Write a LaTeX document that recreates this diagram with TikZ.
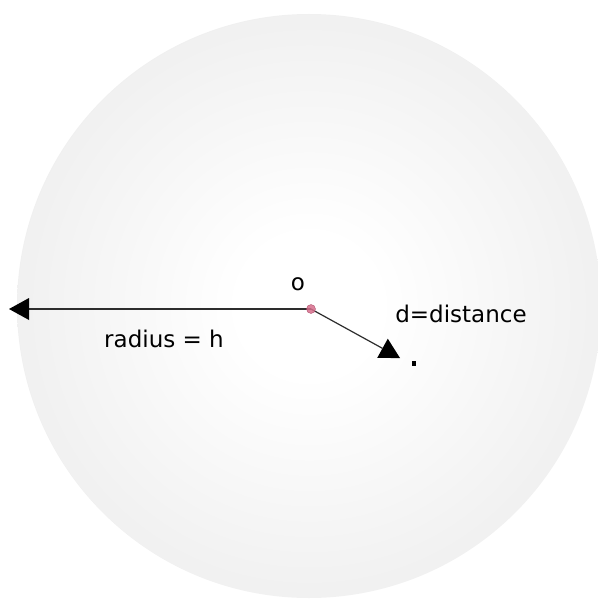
\documentclass[tikz,border=0pt]{standalone}
\usepackage{fontspec}
\setmainfont{DejaVu Sans}
\usetikzlibrary{arrows.meta}
\definecolor{edgegray}{RGB}{229,229,229}
\definecolor{dotpink}{RGB}{214,110,140}
\definecolor{dotedge}{RGB}{170,70,100}
\definecolor{linegray}{RGB}{45,45,45}
\pgfdeclareradialshading{ballshade}{\pgfpoint{0bp}{0bp}}{color(0bp)=(white); color(6bp)=(white); color(40bp)=(edgegray); color(100bp)=(edgegray)}
\begin{document}
\begin{tikzpicture}[x=1pt,y=-1pt,
  lbl/.style={font=\fontsize{23}{27}\selectfont, inner sep=0pt, anchor=base},
  vec/.style={draw=linegray, line width=1.2pt, -{Triangle[length=20pt,width=22pt,fill=black,line width=0pt]}}]
\useasboundingbox (0,0) rectangle (597,599);
\shade[shading=ballshade] (309,306) circle (292);
\coordinate (O) at (311,309);
\coordinate (L) at (9,309);
\coordinate (D) at (400,358);
\draw[vec] (O) -- (L);
\draw[vec] (O) -- (D);
\filldraw[fill=dotpink, draw=dotedge, line width=0.4pt, opacity=0.85] (O) circle (4.5);
\fill[black] (412,361) rectangle (416,366) node[coordinate] (pt) {};
\node[lbl] (o) at (298,290) {o};
\node[lbl] (dist) at (461,322) {d=distance};
\node[lbl] (rad) at (164,347) {radius = h};
\end{tikzpicture}
\end{document}
